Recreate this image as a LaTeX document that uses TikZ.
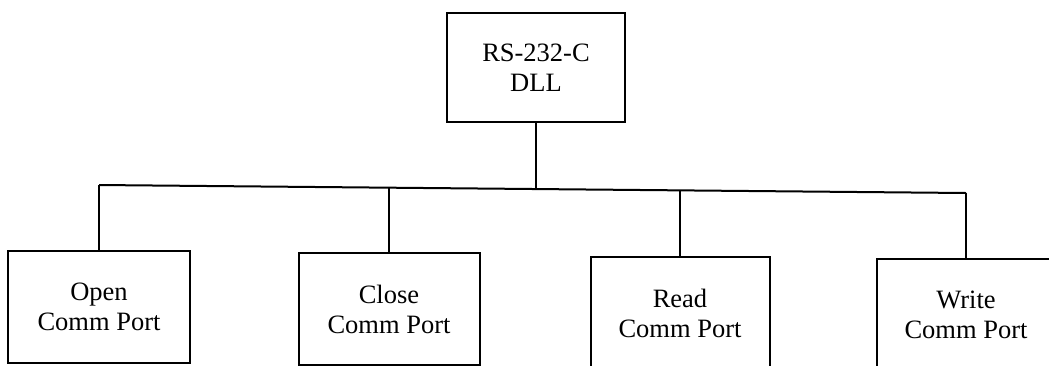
\documentclass[tikz,border=0pt]{standalone}
\usepackage{fontspec}
\setmainfont{Liberation Serif}
\begin{document}
\begin{tikzpicture}[x=1pt,y=-1pt,
  box/.style={draw, line width=2pt, minimum width=#1, minimum height=112pt,
    inner sep=0pt, align=center, font=\fontsize{26.5}{30}\selectfont},
  box/.default=181pt,
  link/.style={line width=2pt}]
  \useasboundingbox (0,0) rectangle (1049,365);
  \clip (0,0) rectangle (1049,365);

  % library root
  \node[box=178pt, minimum height=109pt] (dll) at (536,67.5) {RS-232-C\\DLL};

  % functions
  \node[box=182pt] (open)  at (99,307)  {Open\\Comm Port};
  \node[box=181pt] (close) at (389,309) {Close\\Comm Port};
  \node[box=179pt] (read)  at (680,313) {Read\\Comm Port};
  \node[box=178pt] (write) at (966,315) {Write\\Comm Port};

  % bus junctions
  \coordinate (jdll)   at (536,189);
  \coordinate (jopen)  at (99,185);
  \coordinate (jclose) at (389,187.7);
  \coordinate (jread)  at (680,190.4);
  \coordinate (jwrite) at (966,193);

  \draw[link] (dll.south) -- (jdll);
  \draw[link] (jopen) -- (jwrite);
  \draw[link] (jopen) -- (open.north);
  \draw[link] (jclose) -- (close.north);
  \draw[link] (jread) -- (read.north);
  \draw[link] (jwrite) -- (write.north);
\end{tikzpicture}
\end{document}
